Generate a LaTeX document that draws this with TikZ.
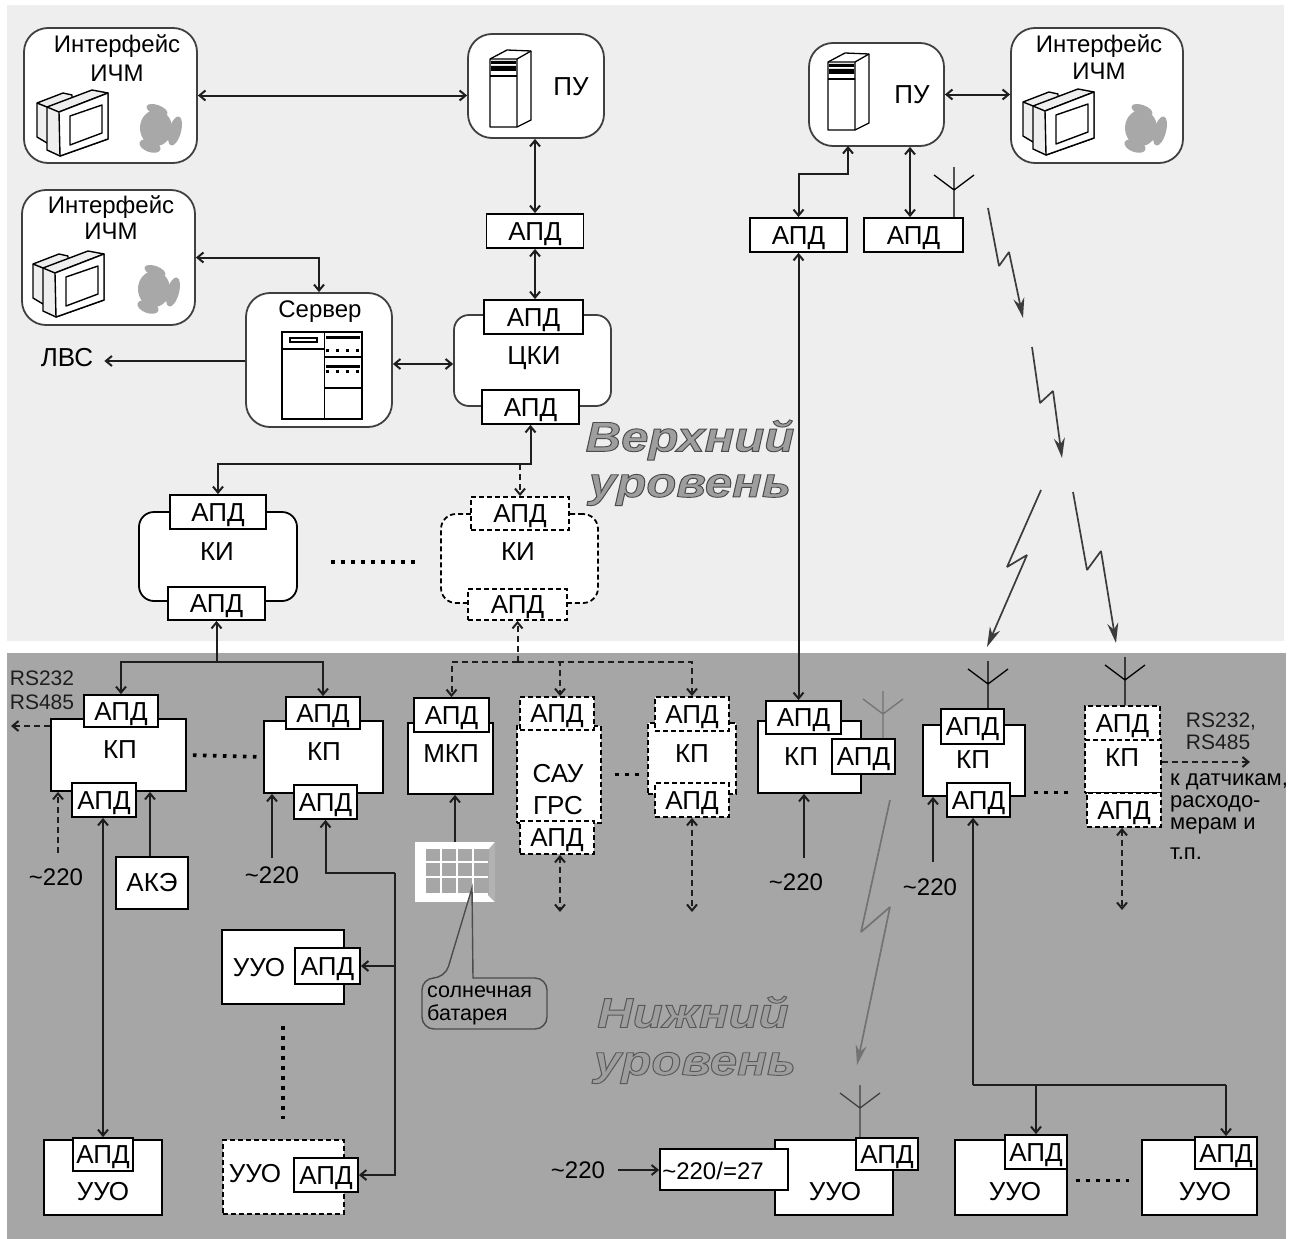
\documentclass[tikz,border=0pt]{standalone}
\usepackage{fontspec}
\setmainfont{Liberation Sans}
\usepackage{tikz}
\usetikzlibrary{arrows.meta,calc}
\definecolor{upperbg}{RGB}{238,238,238}
\definecolor{lowerbg}{RGB}{166,166,166}
\definecolor{inkgray}{RGB}{30,30,30}
\definecolor{boltgray}{RGB}{60,60,60}
\definecolor{mousegray}{RGB}{168,168,168}
\newcommand{\fs}[1]{\fontsize{#1}{#1}\selectfont}
\newcommand{\outlined}[2]{\special{pdf:code q 2 Tr 0.9 w #1 G}#2\special{pdf:code Q}}
% monitor and mouse of an operator station
\newcommand{\Station}[4]{
  \begin{scope}[shift={(#1,#2)}, line width=1.4pt, line join=round]
    \draw[fill=upperbg] (0,14) -- (26,4) -- (35,6) -- (35,40) -- (10,54) -- (0,48) -- cycle;
    \draw[fill=upperbg] (10,18) -- (55,1) -- (71,4) -- (71,50) -- (23,67) -- (10,61) -- cycle;
    \draw (0,14) -- (10,18) -- (22,23) -- (71,4);
    \draw[fill=white] (22,23) -- (71,4) -- (71,50) -- (23,67) -- cycle;
    \draw (33,27) -- (65,16) -- (65,44) -- (33,56) -- cycle;
  \end{scope}
  \begin{scope}[shift={(#3,#4)}]
    \fill[mousegray] (17,25) ellipse (16 and 18);
    \fill[mousegray, rotate around={-20:(18,7)}] (18,7) ellipse (11 and 5);
    \fill[mousegray, rotate around={-15:(36,28)}] (36,28) ellipse (6 and 15);
    \fill[mousegray, rotate around={-20:(11,43)}] (11,43) ellipse (11 and 6);
  \end{scope}}
% tower computer
\newcommand{\Tower}[2]{
  \begin{scope}[shift={(#1,#2)}, line width=1.3pt, line join=round]
    \draw[fill=white] (0,9) -- (17,0) -- (41,1) -- (41,70) -- (27,77) -- (0,77) -- cycle;
    \draw (0,9) -- (27,9) -- (41,1) (27,9) -- (27,77);
    \fill[black] (1,11) rectangle (26,14) (1,16) rectangle (26,21);
    \draw (0,26) -- (27,26);
  \end{scope}}
\newcommand{\Antenna}[4][black]{
  \draw[#1, line width=1.3pt] (#3,#4 |- #2.north) -- (#3,#4)
    ($(#3,#4)+(-20,8)$) -- ($(#3,#4)+(0,23)$) -- ($(#3,#4)+(20,8)$);}
\begin{document}
\begin{tikzpicture}[x=1pt, y=-1pt,
  font=\fs{26},
  txt/.style={inner sep=1pt, align=center, text=black},
  apd/.style={draw, fill=white, line width=1.8pt, minimum width=97pt, minimum height=34pt, inner sep=0pt,
              text height=19pt, text depth=1pt},
  apdd/.style={apd, dash pattern=on 5pt off 3pt},
  unit/.style={draw, fill=white, line width=1.8pt, inner sep=0pt},
  unitd/.style={unit, dash pattern=on 5pt off 3pt},
  panel/.style={draw=black!75, fill=white, line width=1.8pt, rounded corners=24pt, inner sep=0pt},
  arr/.style={-{Straight Barb[length=6pt,width=10pt]}, line width=2pt, draw=inkgray},
  dbl/.style={{Straight Barb[length=6pt,width=10pt]}-{Straight Barb[length=6pt,width=10pt]}, line width=2pt, draw=inkgray},
  darr/.style={arr, dash pattern=on 6pt off 4pt},
  ddbl/.style={dbl, dash pattern=on 6pt off 4pt},
  dots/.style={line width=3.6pt, dash pattern=on 3.6pt off 6.4pt},
  bolt/.style={-{Stealth[length=20pt,width=11pt]}, line width=1.7pt, draw=boltgray, line join=bevel},
  level/.style={inner sep=0pt, font=\fs{42}\bfseries\itshape, xscale=1.17, transform shape}]
\useasboundingbox (0,0) rectangle (1293,1239);
\fill[white] (0,0) rectangle (1293,1239);
\fill[upperbg] (7,5) rectangle (1284,641);
\fill[lowerbg] (7,653) rectangle (1286,1239);

% upper level
\node[panel, minimum width=173pt, minimum height=135pt] (ICHMa) at (110.5,95.5) {};
\node[txt, font=\fs{24}, align=center] (ICHMaT) at (117,58) {Интерфейс\\[5pt]ИЧМ};
\Station{37}{89}{139}{103}
\node[panel, minimum width=173pt, minimum height=135pt] (ICHMb) at (108.5,257.5) {};
\node[txt, font=\fs{24}] (ICHMbT) at (111,218) {Интерфейс\\[2pt]ИЧМ};
\Station{33}{250}{137}{264}
\node[panel, minimum width=136pt, minimum height=104pt] (PUa) at (536,86) {};
\node[txt] (PUaT) at (571,87) {ПУ};
\Tower{490}{50}
\node[apd] (APDa) at (535,231) {АПД};
\node[panel, rounded corners=15pt, minimum width=157pt, minimum height=91pt] (CKI) at (532.5,360.5) {};
\node[txt] (CKIT) at (534,358) {ЦКИ};
\node[apd, minimum width=99pt] (APDb) at (533.5,317) {АПД};
\node[apd] (APDc) at (530.5,407) {АПД};
\node[panel, minimum width=146pt, minimum height=134pt] (SRV) at (319,360) {};
\node[txt, font=\fs{24}] (SRVT) at (320,312) {Сервер};
\draw[line width=1.4pt] (282,332) rectangle (362,419) (324.5,332) -- (324.5,419)
  (282,349) -- (324.5,349) (324.5,357) -- (362,357) (324.5,388) -- (362,388);
\draw[line width=1.4pt] (290,338) rectangle (317,342);
\draw[line width=3pt] (326,337) -- (360,337) (326,366) -- (360,366);
\draw[line width=3pt, dash pattern=on 3pt off 7pt] (326,350) -- (360,350) (326,371) -- (360,371);
\node[txt, inner xsep=11pt] (LVS) at (67,358) {ЛВС};
\node[unit, rounded corners=15pt, minimum width=158pt, minimum height=89pt] (KIa) at (218,556.5) {};
\node[txt] (KIaT) at (217,552) {КИ};
\node[apd, minimum width=96pt] (APDd) at (218,512) {АПД};
\node[apd, minimum height=33pt] (APDe) at (216.5,603.5) {АПД};
\node[unitd, rounded corners=15pt, minimum width=157pt, minimum height=89pt] (KIb) at (519.5,558.5) {};
\node[txt] (KIbT) at (518,552) {КИ};
\node[apdd, minimum width=98pt, minimum height=33pt] (APDf) at (520,513.5) {АПД};
\node[apdd, minimum width=99pt, minimum height=31pt] (APDg) at (517.5,604.5) {АПД};
\node[panel, minimum width=135pt, minimum height=103pt] (PUb) at (876.5,94.5) {};
\node[txt] (PUbT) at (912,95) {ПУ};
\Tower{828}{53}
\node[panel, minimum width=172pt, minimum height=135pt] (ICHMc) at (1097,95.5) {};
\node[txt, font=\fs{24}] (ICHMcT) at (1099,57) {Интерфейс\\[3pt]ИЧМ};
\Station{1023}{88}{1124}{103}
\node[apd] (APDh) at (798.5,235) {АПД};
\node[apd, minimum width=99pt] (APDi) at (913.5,235) {АПД};
\node[level, text=black!38] (UPa) at (690,440) {\outlined{0.3}{Верхний}};
\node[level, text=black!38] (UPb) at (690,490) {\outlined{0.3}{уровень}};

% lower level
\node[unit, minimum width=135pt, minimum height=72pt] (KPa) at (118.5,755) {};
\node[txt] (KPaT) at (120,750) {КП};
\node[apd, minimum width=74pt, minimum height=32pt] (APDj) at (121,711) {АПД};
\node[apd, minimum width=64pt] (APDk) at (104,800) {АПД};
\node[unit, minimum width=119pt, minimum height=72pt] (KPb) at (323.5,757) {};
\node[txt] (KPbT) at (324,752) {КП};
\node[apd, minimum width=74pt, minimum height=32pt] (APDl) at (323,713) {АПД};
\node[apd, minimum width=63pt] (APDm) at (325.5,802) {АПД};
\node[unit, minimum width=85pt, minimum height=71pt] (MKP) at (450.5,758.5) {};
\node[txt] (MKPT) at (451,754) {МКП};
\node[apd, minimum width=75pt] (APDn) at (451.5,715) {АПД};
\node[unitd, minimum width=84pt, minimum height=97pt] (SAU) at (559,774.5) {};
\node[txt] (SAUT) at (558,790) {САУ\\[6pt]ГРС};
\node[apdd, minimum width=74pt, minimum height=33pt] (APDo) at (557,713.5) {АПД};
\node[apdd, minimum width=74pt, minimum height=33pt] (APDp) at (557,837.5) {АПД};
\node[unitd, minimum width=88pt, minimum height=71pt] (KPc) at (692,758.5) {};
\node[txt] (KPcT) at (692,754) {КП};
\node[apdd, minimum width=74pt] (APDq) at (692,714) {АПД};
\node[apdd, minimum width=74pt] (APDr) at (692,800) {АПД};
\node[unit, minimum width=103pt, minimum height=72pt] (KPd) at (809.5,757) {};
\node[txt] (KPdT) at (801,757) {КП};
\node[apd, minimum width=75pt, minimum height=33pt] (APDs) at (803.5,717.5) {АПД};
\node[apd, minimum width=63pt, minimum height=35pt] (APDt) at (863.5,756.5) {АПД};
\node[unit, minimum width=102pt, minimum height=71pt] (KPe) at (974,760.5) {};
\node[txt] (KPeT) at (973,760) {КП};
\node[apd, minimum width=63pt, minimum height=35pt] (APDu) at (972.5,726.5) {АПД};
\node[apd, minimum width=63pt] (APDv) at (978.5,800) {АПД};
\node[unitd, minimum width=76pt, minimum height=53pt] (KPf) at (1123,766.5) {};
\node[txt] (KPfT) at (1122,758) {КП};
\node[apdd, minimum width=75pt] (APDw) at (1122.5,723) {АПД};
\node[apdd, minimum width=74pt] (APDx) at (1124,810) {АПД};
\node[unit, minimum width=72pt, minimum height=52pt] (AKE) at (152,883) {АКЭ};
\node[unit, minimum width=118pt, minimum height=75pt] (UUOa) at (103,1177.5) {};
\node[txt] (UUOaT) at (103,1192) {УУО};
\node[apd, minimum width=60pt, minimum height=33pt] (APDy) at (103,1154.5) {АПД};
\node[unit, minimum width=122pt, minimum height=74pt] (UUOb) at (283,967) {};
\node[txt] (UUObT) at (259,968) {УУО};
\node[apd, minimum width=65pt, minimum height=36pt] (APDz) at (327.5,966) {АПД};
\node[unitd, minimum width=121pt, minimum height=74pt] (UUOc) at (283.5,1177) {};
\node[txt] (UUOcT) at (255,1174) {УУО};
\node[apd, minimum width=64pt] (APDaa) at (326,1175) {АПД};
\node[unit, minimum width=118pt, minimum height=75pt] (UUOd) at (834,1177.5) {};
\node[txt] (UUOdT) at (835,1192) {УУО};
\node[apd, minimum width=62pt, minimum height=32pt] (APDab) at (887,1154) {АПД};
\node[unit, minimum width=128pt, minimum height=41pt] (CONV) at (724,1169.5) {};
\node[txt, font=\fs{24}] (CONVT) at (713,1171) {\textasciitilde220/=27};
\node[unit, minimum width=112pt, minimum height=75pt] (UUOe) at (1011,1177.5) {};
\node[txt] (UUOeT) at (1015,1192) {УУО};
\node[apd, minimum width=62pt] (APDac) at (1036,1152) {АПД};
\node[unit, minimum width=115pt, minimum height=75pt] (UUOf) at (1199.5,1177.5) {};
\node[txt] (UUOfT) at (1205,1192) {УУО};
\node[apd, minimum width=62pt, minimum height=32pt] (APDad) at (1226,1153) {АПД};
\node[level, text=black!38] (DNa) at (693,1012) {\outlined{0.35}{Нижний}};
\node[level, text=black!38] (DNb) at (695,1068) {\outlined{0.35}{уровень}};

% free labels
\node[txt, font=\fs{21}, text=inkgray, align=left] (RSa) at (42,690) {RS232\\[3pt]RS485};
\node[txt, font=\fs{21}, text=inkgray, align=left] (RSb) at (1221,731) {RS232,\\[1pt]RS485};
\node[txt, font=\fs{22}, anchor=north west, align=left] (SNS) at (1169,772)
  {к датчикам,\\расходо-\\мерам и\\[8pt]т.п.};
\node[txt, font=\fs{24}] (Va) at (56,877) {\textasciitilde220};
\node[txt, font=\fs{24}] (Vb) at (272,875) {\textasciitilde220};
\node[txt, font=\fs{24}] (Vc) at (796,882) {\textasciitilde220};
\node[txt, font=\fs{24}] (Vd) at (930,887) {\textasciitilde220};
\node[txt, font=\fs{24}, inner xsep=13pt] (Ve) at (578,1170) {\textasciitilde220};

% solar panel with its callout
\node[draw=none, fill=white, minimum width=80pt, minimum height=60pt, inner sep=0pt] (SOLAR) at (455,872) {};
\fill[black!30] (488,850) -- (495,842) -- (495,902) -- (488,895) -- cycle;
\fill[lowerbg] (424,849) rectangle (489,895);
\draw[white, line width=1.5pt] (425,849) -- (425,894) -- (488,894) (425,862) -- (488,862) (425,877) -- (488,877)
  (441,849) -- (441,895) (457,849) -- (457,895) (473,849) -- (473,895);
\draw[draw=black!70, line width=1.4pt, fill=lowerbg, rounded corners=12pt]
  (445,978) [sharp corners] -- (472,888) -- (473,978) [rounded corners=12pt] -- (547,978) -- (547,1029) -- (422,1029) -- (422,978) -- cycle;
\node[txt, font=\fs{21.5}, anchor=north west, align=left] (SOLART) at (426,985) {солнечная\\[1pt]батарея};

% coordinates of connector ends
\coordinate (busCKI) at (530.5,464);
\coordinate (busKP) at (216.5,662);
\coordinate (busKPd) at (517.5,662);
\coordinate (rsLeft) at (11,726);
\coordinate (inVa) at (58,853);
\coordinate (inVb) at (272,858);
\coordinate (inVc) at (804,858);
\coordinate (inVd) at (933,862);
\coordinate (turnUUO) at (395,873);
\coordinate (endSAU) at (560,912);
\coordinate (endKPc) at (692,912);
\coordinate (endKPf) at (1122,910);
\coordinate (rsRight) at (1250,762);
\coordinate (busUUO) at (973,1085);
\coordinate (bendPU) at (823,174);
\coordinate (inPUb) at (848,146);

% connectors, upper level
\draw[dbl] (ICHMa.east) -- (ICHMa.east -| PUa.west);
\draw[dbl] (APDa.north) -- (APDa.north |- PUa.south);
\draw[dbl] (APDa.south) -- (APDa.south |- APDb.north);
\draw[dbl] (ICHMb.east) -| (SRV.north);
\draw[dbl] ([yshift=-4pt]SRV.east) -- ([yshift=-4pt]SRV.east -| CKI.west);
\draw[arr] ([yshift=-1pt]SRV.west) -- ([yshift=-1pt]SRV.west -| LVS.east);
\draw[dbl] (APDc.south) -- (busCKI) -| (APDd.north);
\draw[darr] (busCKI -| APDf.north) -- (APDf.north);
\draw[dots, shorten <=33pt, shorten >=21pt] ([yshift=-5.5pt]KIa.east) -- ([yshift=-3.5pt]KIb.west);
\draw[dbl] (PUb.east) -- (PUb.east -| ICHMc.west);
\draw[dbl] (APDh.north) -- (APDh.north |- bendPU) -| (inPUb);
\draw[dbl] ([xshift=-3.5pt]APDi.north) -- ([xshift=-3.5pt]APDi.north |- PUb.south);
\Antenna{APDi}{954}{167}

% connectors between the levels
\draw[arr] (busKP) -- (APDe.south);
\draw[arr] (busKP) -| (APDj.north);
\draw[arr] (busKP) -| (APDl.north);
\draw[darr] (busKPd) -- (APDg.south);
\draw[darr] (busKPd) -| (APDn.north);
\draw[darr] (busKPd) -| ([xshift=3pt]APDo.north);
\draw[darr] (busKPd) -| (APDq.north);
\draw[dbl] (APDh.south) -- (APDh.south |- APDs.north);

% connectors, lower level
\draw[darr] ([yshift=29pt]KPa.west) -- ([yshift=29pt]KPa.west -| rsLeft);
\draw[darr] (inVa) -- (inVa |- KPa.south);
\draw[arr] ([xshift=-2pt]AKE.north) -- ([xshift=-2pt]AKE.north |- KPa.south);
\draw[dbl] (APDy.north) -- (APDy.north |- APDk.south);
\draw[arr] (inVb) -- (inVb |- KPb.south);
\draw[arr] (turnUUO) -| (APDm.south);
\draw[arr] (turnUUO) |- (APDaa.east);
\draw[arr] (APDz.east -| turnUUO) -- (APDz.east);
\draw[arr] (SOLAR.north) -- (SOLAR.north |- MKP.south);
\draw[ddbl] ([xshift=3pt]APDp.south) -- (endSAU);
\draw[ddbl] (APDr.south) -- (endKPc);
\draw[arr] (inVc) -- (inVc |- KPd.south);
\draw[arr] (inVd) -- (inVd |- KPe.south);
\draw[arr] (busUUO) -- (busUUO |- APDv.south);
\draw[line width=2pt, draw=inkgray] (busUUO) -- (busUUO -| APDad.north);
\draw[arr] (busUUO -| APDac.north) -- (APDac.north);
\draw[arr] (busUUO -| APDad.north) -- (APDad.north);
\draw[ddbl] (APDx.south -| endKPf) -- (endKPf);
\draw[darr] ([yshift=4.5pt]KPf.east) -- ([yshift=4.5pt]KPf.east -| rsRight);
\draw[arr] (Ve.east) -- (Ve.east -| CONV.west);
\Antenna[black!55]{APDt}{883}{691}
\Antenna{APDu}{988}{661}
\Antenna{APDw}{1125}{657}
\Antenna[black!75]{APDab}{860}{1085}

% rows of dots
\draw[dots, shorten <=6pt, shorten >=2pt] (KPa.east) -- (KPb.west);
\draw[dots, shorten <=13pt, shorten >=8pt] (SAU.east) -- ([yshift=0pt]SAU.east -| KPc.west);
\draw[dots, shorten <=8pt, shorten >=15pt] ([yshift=-32pt]KPe.east) -- ([yshift=-32pt]KPe.east -| KPf.west);
\draw[dots, shorten <=21pt, shorten >=20pt] (UUOb.south) -- (UUOb.south |- UUOc.north);
\draw[dots, shorten <=8pt, shorten >=12pt] ([yshift=-3pt]UUOe.east) -- ([yshift=-3pt]UUOf.west);

% radio links
\draw[bolt] (988,208) -- (999,266) -- (1009,252) -- (1023,318);
\draw[bolt] (1032,347) -- (1040,403) -- (1053,391) -- (1062,458);
\draw[bolt] (1041,490) -- (1007,567) -- (1027,555) -- (987,647);
\draw[bolt] (1073,492) -- (1087,570) -- (1101,551) -- (1116,643);
\draw[bolt, draw=black!55] (890,800) -- (861,932) -- (890,907) -- (857,1065);
\end{tikzpicture}
\end{document}
